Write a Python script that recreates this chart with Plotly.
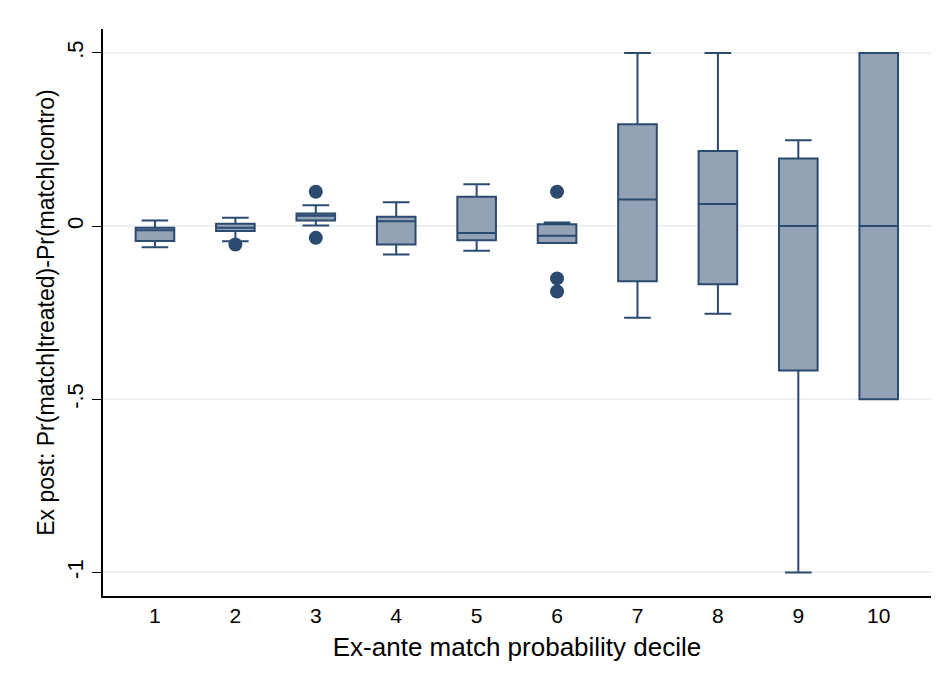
import plotly.graph_objects as go

deciles = [1, 2, 3, 4, 5, 6, 7, 8, 9, 10]
q1 = [-0.043, -0.014, 0.016, -0.053, -0.041, -0.049, -0.159, -0.168, -0.417, -0.5]
median = [-0.012, -0.005, 0.030, 0.014, -0.020, -0.028, 0.077, 0.064, 0.0, 0.0]
q3 = [-0.005, 0.007, 0.036, 0.027, 0.085, 0.005, 0.294, 0.217, 0.195, 0.5]
lower_whisker = [-0.061, -0.044, 0.002, -0.082, -0.071, -0.049, -0.265, -0.253, -1.0, -0.5]
upper_whisker = [0.016, 0.024, 0.060, 0.069, 0.121, 0.010, 0.5, 0.5, 0.248, 0.5]
outlier_x = [2, 3, 3, 6, 6, 6]
outlier_y = [-0.053, 0.099, -0.034, 0.099, -0.151, -0.189]

y_tickvals = [-1, -0.5, 0, 0.5]
y_ticktext = ["-1", "-.5", "0", ".5"]

LINE = "#2b4a70"
FILL = "#93a3b5"
FONT = "Liberation Sans, Arial, sans-serif"

fig = go.Figure()
fig.add_trace(go.Box(
    x=deciles, q1=q1, median=median, q3=q3,
    lowerfence=lower_whisker, upperfence=upper_whisker,
    width=0.48, whiskerwidth=0.69,
    fillcolor=FILL, line=dict(color=LINE, width=2),
    boxpoints=False, showlegend=False, hoverinfo="skip",
))
fig.add_trace(go.Scatter(
    x=outlier_x, y=outlier_y, mode="markers",
    marker=dict(color=LINE, size=14, line=dict(width=0)),
    showlegend=False, hoverinfo="skip",
))

fig.update_layout(
    width=945, height=689,
    margin=dict(l=95, r=22, t=21, b=101),
    paper_bgcolor="white", plot_bgcolor="white",
    font=dict(family=FONT, color="black"),
    xaxis=dict(
        range=[0.354, 10.65], tickvals=deciles, ticktext=[str(d) for d in deciles],
        ticks="", showgrid=False, zeroline=False,
        showline=True, linecolor="black", linewidth=1.5,
        tickfont=dict(size=21),
        title=dict(text="Ex-ante match probability decile", font=dict(size=26), standoff=12),
    ),
    yaxis=dict(
        range=[-1.068, 0.569], tickvals=y_tickvals, ticktext=y_ticktext,
        tickangle=-90, ticks="outside", ticklen=9, tickcolor="black", tickwidth=1.3,
        showgrid=True, gridcolor="#eaf0f3", gridwidth=1.5, zeroline=False,
        showline=True, linecolor="black", linewidth=1.5,
        tickfont=dict(size=22),
        title=dict(text="Ex post: Pr(match|treated)-Pr(match|contro)", font=dict(size=23), standoff=2),
    ),
)

fig.write_html("out.html")
